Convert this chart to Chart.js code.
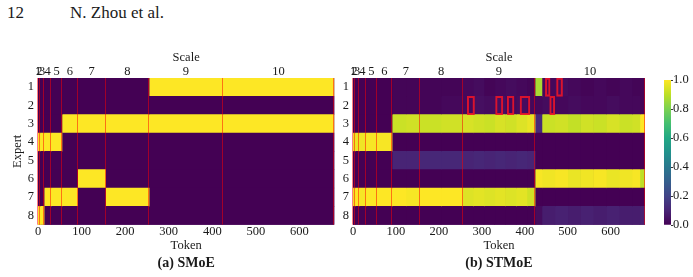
<!DOCTYPE html>
<html><head><meta charset="utf-8">
<script src="https://cdn.jsdelivr.net/npm/chart.js@4/dist/chart.umd.min.js"></script>
<style>
html,body{margin:0;padding:0;background:#fff;width:693px;height:277px;overflow:hidden;position:relative;font-family:"Liberation Serif","Times New Roman",serif;color:#1a1a1a;}
canvas{position:absolute;}
.hdr{position:absolute;top:4px;font-size:17px;line-height:17px;white-space:nowrap;}
</style></head><body>
<div class="hdr" style="left:7px">12</div>
<div class="hdr" style="left:70px">N. Zhou et al.</div>
<canvas id="ca" width="345" height="237" style="left:0;top:40px"></canvas>
<canvas id="cb" width="340" height="237" style="left:315px;top:40px"></canvas>
<canvas id="cc" width="38" height="237" style="left:655px;top:40px"></canvas>
<script>
// ---------- data ----------
const experts = ['1','2','3','4','5','6','7','8'];
const scaleLabels = ['1','2','3','4','5','6','7','8','9','10'];
const scaleEdges = [0,1,5,14,30,55,91,155,255,424,680];   // token boundaries of the scales
const tokenTicks = [0,100,200,300,400,500,600];
const cbTicks = [0,0.2,0.4,0.6,0.8,1.0];

// (a) SMoE: routing weight per expert, one value per scale
const smoeE1 = [0,0,0,0,0,0,0,0,1,1];
const smoeE2 = [0,0,0,0,0,0,0,0,0,0];
const smoeE3 = [0,0,0,0,0,1,1,1,1,1];
const smoeE4 = [1,1,1,1,1,0,0,0,0,0];
const smoeE5 = [0,0,0,0,0,0,0,0,0,0];
const smoeE6 = [0,0,0,0,0,0,1,0,0,0];
const smoeE7 = [0,0,0,1,1,1,0,1,0,0];
const smoeE8 = [1,1,1,0,0,0,0,0,0,0];

// (b) STMoE: routing weight per expert over token chunks
const stmoeEdges = [0,1,5,14,30,55,91,123,155,205,255,280,305,330,355,380,405,424,440,470,500,530,560,590,620,650,668,680];
const stmoeE1 = [0,0,0,0,0,0, 0.01,0.01,0.01,0.01, 0.02,0.03,0.01,0.02,0.03,0.02,0.01, 0.87, 0.02,0.03,0.02,0.01,0.02,0.01,0.02,0.01,0.01];
const stmoeE2 = [0,0,0,0,0,0, 0.01,0.01,0.01,0.02, 0.02,0.04,0.03,0.04,0.02,0.03,0.02, 0.02, 0.03,0.02,0.03,0.02,0.02,0.03,0.02,0.02,0.01];
const stmoeE3 = [0,0,0,0,0,0, 0.92,0.93,0.92,0.93, 0.94,0.93,0.92,0.94,0.93,0.95,0.97, 0.12, 0.92,0.93,0.91,0.93,0.92,0.94,0.92,0.93,1.0];
const stmoeE4 = [0.97,0.98,0.97,0.98,0.99,0.99, 0,0,0,0, 0,0,0,0,0,0,0, 0, 0,0,0,0,0,0,0,0,0];
const stmoeE5 = [0,0,0,0,0,0, 0.10,0.10,0.11,0.11, 0.10,0.11,0.10,0.11,0.10,0.11,0.10, 0, 0,0,0,0,0,0,0,0,0];
const stmoeE6 = [0,0,0,0,0,0, 0,0,0,0, 0,0,0,0,0,0,0, 0.99, 0.98,0.99,0.97,0.98,0.99,0.97,0.98,0.99,0.90];
const stmoeE7 = [0.98,0.99,1,0.99,1,1, 1,0.99,1,1, 0.95,0.96,0.95,0.96,0.95,0.96,0.93, 0, 0,0,0,0,0,0,0,0,0];
const stmoeE8 = [0,0,0,0,0,0, 0,0,0,0, 0,0,0,0,0,0,0, 0.03, 0.08,0.09,0.08,0.09,0.08,0.09,0.08,0.08,0.09];

// highlighted token ranges in (b)
const boxesExpert1 = [[448,459],[474,488]];
const boxesExpert2 = [[266,283],[332,349],[359,375],[389,412],[458,470]];

// ---------- helpers ----------
const VIR = ['#440154','#482475','#414487','#355f8d','#2a788e','#21918c','#22a884','#44bf70','#7ad151','#bddf26','#fde725'];
function hex(h){return [parseInt(h.slice(1,3),16),parseInt(h.slice(3,5),16),parseInt(h.slice(5,7),16)];}
function viridis(v){
  v=Math.max(0,Math.min(1,v)); const p=v*10; const i=Math.min(9,Math.floor(p)); const f=p-i;
  const a=hex(VIR[i]), b=hex(VIR[i+1]);
  return 'rgb('+a.map((c,k)=>Math.round(c+(b[k]-c)*f)).join(',')+')';
}
const TXT = '#1a1a1a';
Chart.defaults.font.family = '"Liberation Serif","Times New Roman",serif';
Chart.defaults.font.size = 12.5;
Chart.defaults.color = TXT;

function cellDatasets(edges, rows){
  const ds=[];
  for(let c=0;c<edges.length-1;c++){
    ds.push({
      data: rows.map(()=>[edges[c],edges[c+1]]),
      backgroundColor: rows.map(r=>viridis(r[c])),
      borderWidth:0, grouped:false, barPercentage:1, categoryPercentage:1, order:2
    });
  }
  return ds;
}
function boxDatasets(list){
  const ds=[];
  list.forEach(([row,ranges])=>{
    ranges.forEach(rg=>{
      ds.push({
        data: experts.map(e=> e===row ? rg : null),
        backgroundColor:'rgba(0,0,0,0)', borderColor:'rgba(235,20,40,0.9)', borderWidth:1.4,
        borderSkipped:false, grouped:false, barPercentage:1, categoryPercentage:1, order:0
      });
    });
  });
  return ds;
}
const bgPlugin = {
  id:'bgfill',
  beforeDatasetsDraw(chart){
    const {ctx, chartArea:a} = chart;
    ctx.save(); ctx.fillStyle = VIR[0]; ctx.fillRect(a.left,a.top,a.right-a.left,a.bottom-a.top); ctx.restore();
  }
};
const sepPlugin = {
  id:'sep',
  afterDatasetsDraw(chart){
    const {ctx, chartArea:a, scales} = chart;
    ctx.save(); ctx.strokeStyle='rgba(255,0,0,0.5)'; ctx.lineWidth=1;
    scaleEdges.slice(1).forEach(v=>{
      let px = Math.round(scales.x.getPixelForValue(v)) - 0.5;
      ctx.beginPath(); ctx.moveTo(px,a.top); ctx.lineTo(px,a.bottom); ctx.stroke();
    });
    ctx.restore();
  }
};
const scaleCenters = scaleLabels.map((_,i)=>(scaleEdges[i]+scaleEdges[i+1])/2);

function panelConfig(datasets, caption, showYTitle, padRight){
  return {
    type:'bar',
    data:{labels:experts, datasets},
    plugins:[bgPlugin, sepPlugin],
    options:{
      indexAxis:'y', responsive:false, animation:false,
      layout:{padding:{left:0,right:padRight,top:0,bottom:0}},
      plugins:{
        legend:{display:false}, tooltip:{enabled:false},
        title:{display:true, text:caption, position:'bottom', fullSize:false,
               font:{size:14, weight:'bold'}, color:TXT, padding:{top:2,bottom:5}}
      },
      scales:{
        x:{type:'linear', position:'bottom', min:0, max:680,
           grid:{display:false, drawTicks:false}, border:{display:false},
           afterBuildTicks:(s)=>{ s.ticks = tokenTicks.map(v=>({value:v})); },
           ticks:{autoSkip:false, maxRotation:0, minRotation:0, padding:1, font:{size:12.5, lineHeight:1}},
           title:{display:true, text:'Token', font:{size:12.5}, padding:{top:0,bottom:0}},
           afterFit:(s)=>{ s.height = 28.5; }},
        xTop:{type:'linear', position:'top', min:0, max:680,
           grid:{display:false, drawTicks:false}, border:{display:false},
           afterBuildTicks:(s)=>{ s.ticks = scaleCenters.map(v=>({value:v})); },
           ticks:{autoSkip:false, maxRotation:0, minRotation:0, padding:0, font:{size:12.5, lineHeight:1},
                  callback:(v,i)=>scaleLabels[i]},
           title:{display:true, text:'Scale', font:{size:12.5}, padding:{top:10,bottom:0}},
           afterFit:(s)=>{ s.height = 38; }},
        y:{type:'category', position:'left', grid:{display:false, drawTicks:false}, border:{display:false},
           ticks:{padding:4, font:{size:12.5}},
           title:{display:showYTitle, text:'Expert', font:{size:12.5}, padding:{top:10,bottom:0}},
           afterFit:(s)=>{ s.width = 38; }}
      }
    }
  };
}

const smoeRows = [smoeE1,smoeE2,smoeE3,smoeE4,smoeE5,smoeE6,smoeE7,smoeE8];
const stmoeRows = [stmoeE1,stmoeE2,stmoeE3,stmoeE4,stmoeE5,stmoeE6,stmoeE7,stmoeE8];

new Chart(document.getElementById('ca'),
  panelConfig(cellDatasets(scaleEdges, smoeRows), '(a) SMoE', true, 10.7));
new Chart(document.getElementById('cb'),
  panelConfig(boxDatasets([['1',boxesExpert1],['2',boxesExpert2]]).concat(cellDatasets(stmoeEdges, stmoeRows)), '(b) STMoE', false, 10));

// colorbar
new Chart(document.getElementById('cc'), {
  type:'bar',
  data:{labels:['cb'], datasets:[{
    data:[[cbTicks[0], cbTicks[cbTicks.length-1]]],
    barPercentage:1, categoryPercentage:1, borderWidth:0,
    backgroundColor:(ctx)=>{
      const ch=ctx.chart, a=ch.chartArea; if(!a) return VIR[0];
      const g=ch.ctx.createLinearGradient(0,a.bottom,0,a.top);
      VIR.forEach((c,i)=>g.addColorStop(i/10,c));
      return g;
    }
  }]},
  options:{
    responsive:false, animation:false,
    layout:{padding:{left:9,right:0,top:40,bottom:52}},
    plugins:{legend:{display:false}, tooltip:{enabled:false}},
    scales:{
      x:{display:false},
      y:{type:'linear', position:'right', min:0, max:1,
         afterBuildTicks:(s)=>{ s.ticks = cbTicks.map(v=>({value:v})); },
         grid:{drawOnChartArea:false, drawTicks:true, tickLength:2, color:'#333'},
         border:{display:false},
         ticks:{padding:0, font:{size:12.5}, callback:(v)=>Number(v).toFixed(1)},
         afterFit:(s)=>{ s.width = 22; }}
    }
  }
});
</script>
</body></html>
